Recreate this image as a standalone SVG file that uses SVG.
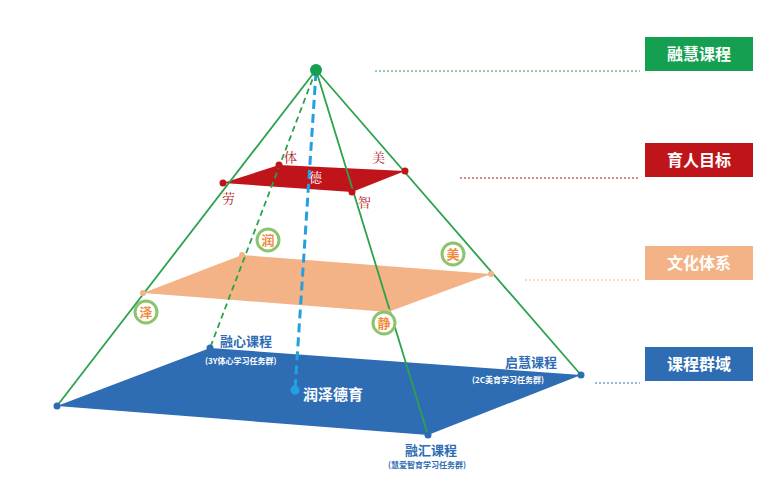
<svg xmlns="http://www.w3.org/2000/svg" width="773" height="484" viewBox="0 0 773 484">
<style>
.f{font-family:"Noto Sans CJK SC","Liberation Sans",sans-serif;font-weight:bold}
.s{font-family:"Noto Serif CJK SC","Noto Sans CJK SC",serif;font-size:13px;fill:#b0141b}
.e{stroke:#2ba24c;stroke-width:1.8;fill:none}
.bx{font-size:16px;fill:#fff}
.ld{stroke-width:1;stroke-dasharray:2 2;fill:none}
.ci{fill:#fff;stroke:#8cc46e;stroke-width:3}
.ct{font-size:13px;fill:#f08c3c;text-anchor:middle}
.bl{fill:#2e6db4}
</style>
<rect width="773" height="484" fill="#fff"/>
<g id="base"><polygon points="57,406 210,348 581,375 428,435" fill="#2e6db4"/></g>
<g id="culture"><polygon points="143,293 242,255 491,274 388,312" fill="#f4b386"/></g>
<g id="goal"><polygon points="223,183 279,165 405,171 352,192" fill="#c0141b"/></g>
<g id="connectors">
<line class="e" x1="316" y1="70" x2="57" y2="406"/>
<line class="e" x1="316" y1="70" x2="581" y2="375"/>
<line class="e" x1="316" y1="70" x2="428" y2="435"/>
<line class="e" x1="316" y1="70" x2="210" y2="348" stroke-dasharray="6 4"/>
<line x1="316" y1="72" x2="295" y2="390" stroke="#22a0e0" stroke-width="3" stroke-dasharray="9 5"/>
<line class="ld" x1="375" y1="71" x2="640" y2="71" stroke="#2ba24c"/>
<line class="ld" x1="460" y1="178" x2="640" y2="178" stroke="#b0141b"/>
<line class="ld" x1="525" y1="280" x2="640" y2="280" stroke="#f4b386"/>
<line class="ld" x1="595" y1="383" x2="640" y2="383" stroke="#2e6db4"/>
</g>
<g id="points">
<circle cx="316" cy="70" r="6" fill="#14a050"/>
<circle cx="223" cy="183" r="3.5" fill="#c0141b"/><circle cx="279" cy="165" r="3.5" fill="#c0141b"/>
<circle cx="405" cy="171" r="3.5" fill="#c0141b"/><circle cx="352" cy="192" r="3.5" fill="#c0141b"/>
<circle cx="143" cy="293" r="3" fill="#f4b386"/><circle cx="242" cy="255" r="3" fill="#f4b386"/>
<circle cx="491" cy="274" r="3" fill="#f4b386"/><circle cx="388" cy="312" r="3" fill="#f4b386"/>
<circle cx="57" cy="406" r="3.5" class="bl"/><circle cx="210" cy="348" r="3.5" class="bl"/>
<circle cx="581" cy="375" r="3.5" class="bl"/><circle cx="428" cy="435" r="3.5" class="bl"/>
<circle cx="295" cy="390" r="4.5" fill="#22a0e0"/>
</g>
<g id="goal-labels">
<text class="s" x="284" y="162">体</text><text class="s" x="372" y="162">美</text>
<text class="s" x="309" y="182" fill="#fff" style="fill:#fff">德</text>
<text class="s" x="222" y="203">劳</text><text class="s" x="358" y="207">智</text>
</g>
<g id="circles" class="f">
<circle class="ci" cx="268" cy="240" r="11"/><text class="ct" x="268" y="245">润</text>
<circle class="ci" cx="453" cy="254" r="11"/><text class="ct" x="453" y="259">美</text>
<circle class="ci" cx="146" cy="312" r="11"/><text class="ct" x="146" y="317">泽</text>
<circle class="ci" cx="384" cy="323" r="11"/><text class="ct" x="384" y="328">静</text>
</g>
<g id="base-labels" class="f">
<text x="220" y="346" font-size="13" fill="#2e6db4">融心课程</text>
<text x="205" y="364" font-size="8" fill="#fff">(3Y体心学习任务群)</text>
<text x="303" y="400" font-size="15" fill="#fff">润泽德育</text>
<text x="505" y="367" font-size="13" fill="#2e6db4">启慧课程</text>
<text x="472" y="383" font-size="8" fill="#fff">(2C美育学习任务群)</text>
<text x="405" y="455" font-size="13" fill="#2e6db4">融汇课程</text>
<text x="388" y="468" font-size="8" fill="#2e6db4">(慧爱智育学习任务群)</text>
</g>
<g id="box1" class="f"><rect x="645" y="37" width="108" height="34" fill="#14a050"/><text class="bx" x="699" y="60" text-anchor="middle">融慧课程</text></g>
<g id="box2" class="f"><rect x="645" y="143" width="108" height="34" fill="#c0141b"/><text class="bx" x="699" y="166" text-anchor="middle">育人目标</text></g>
<g id="box3" class="f"><rect x="645" y="246" width="108" height="34" fill="#f4b386"/><text class="bx" x="699" y="269" text-anchor="middle">文化体系</text></g>
<g id="box4" class="f"><rect x="645" y="347" width="108" height="34" fill="#2e6db4"/><text class="bx" x="699" y="370" text-anchor="middle">课程群域</text></g>
</svg>
